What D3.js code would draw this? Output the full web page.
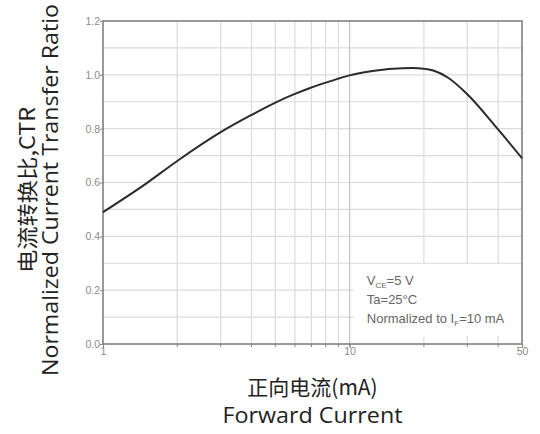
<!DOCTYPE html>
<html>
<head>
<meta charset="utf-8">
<script src="https://cdn.jsdelivr.net/npm/d3@7"></script>
<style>
  body { margin: 0; background: #fff; }
  svg { display: block; }
</style>
</head>
<body>
<div id="chart"></div>
<script>
// forward current (mA) vs normalized CTR
const currentMA = [1, 1.5, 2, 3, 4, 5, 6, 7, 8, 9, 10, 12, 15, 18, 20, 22, 25, 30, 40, 50];
const ctr = [0.49, 0.597, 0.68, 0.787, 0.851, 0.897, 0.929, 0.953, 0.971, 0.986, 0.998, 1.012, 1.023, 1.025, 1.023, 1.015, 0.99, 0.928, 0.797, 0.69];

const yTicks = [0, 0.2, 0.4, 0.6, 0.8, 1.0, 1.2];
const yGrid = [0.1, 0.2, 0.3, 0.4, 0.5, 0.6, 0.7, 0.8, 0.9, 1.0, 1.1];
const xTickLabels = [1, 10, 50];
const xGrid = [2, 3, 4, 5, 6, 7, 8, 9, 10, 20, 30, 40];

const notes = ["V|CE|=5 V", "Ta=25°C", "Normalized to I|F|=10 mA"];

const width = 540, height = 434;
const margin = {top: 21, right: 18, bottom: 90, left: 103};

const svg = d3.select("#chart").append("svg")
    .attr("width", width)
    .attr("height", height);

const x = d3.scaleLog()
    .domain([1, 50])
    .range([margin.left, width - margin.right]);

const y = d3.scaleLinear()
    .domain([0, 1.2])
    .range([height - margin.bottom, margin.top]);

// grid
svg.append("g")
    .attr("stroke", "#dcdcdc")
    .attr("stroke-width", 1.2)
  .selectAll("line")
  .data(yGrid)
  .join("line")
    .attr("x1", margin.left)
    .attr("x2", width - margin.right)
    .attr("y1", d => y(d))
    .attr("y2", d => y(d));

svg.append("g")
    .attr("stroke-width", 1.2)
  .selectAll("line")
  .data(xGrid)
  .join("line")
    .attr("stroke", d => d === 10 ? "#c4c4c4" : "#dcdcdc")
    .attr("x1", d => x(d))
    .attr("x2", d => x(d))
    .attr("y1", margin.top)
    .attr("y2", height - margin.bottom);

// small tick marks under the bottom axis
svg.append("g")
    .attr("stroke", "#888")
  .selectAll("line")
  .data(xGrid)
  .join("line")
    .attr("x1", d => x(d))
    .attr("x2", d => x(d))
    .attr("y1", height - margin.bottom)
    .attr("y2", height - margin.bottom + 3);

// axes via d3 (labels only, lines drawn as frame)
const yAxis = svg.append("g")
    .attr("transform", `translate(${margin.left},0)`)
    .call(d3.axisLeft(y).tickValues(yTicks).tickFormat(d3.format(".1f")).tickSize(3));
yAxis.select(".domain").remove();
yAxis.selectAll("line").attr("stroke", "#888");
yAxis.selectAll("text")
    .attr("fill", "#8a8a8a")
    .attr("font-family", "Liberation Sans, Arial, sans-serif")
    .attr("font-size", 10.5)
    .attr("x", -3);

const xAxis = svg.append("g")
    .attr("transform", `translate(0,${height - margin.bottom})`)
    .call(d3.axisBottom(x).tickValues(xTickLabels).tickFormat(d3.format("d")).tickSize(4));
xAxis.select(".domain").remove();
xAxis.selectAll("line").attr("stroke", "#888");
xAxis.selectAll("text")
    .attr("fill", "#8a8a8a")
    .attr("font-family", "Liberation Sans, Arial, sans-serif")
    .attr("font-size", 10.5)
    .attr("y", 4);

// plot frame
svg.append("rect")
    .attr("x", margin.left)
    .attr("y", margin.top)
    .attr("width", width - margin.right - margin.left)
    .attr("height", height - margin.bottom - margin.top)
    .attr("fill", "none")
    .attr("stroke", "#808080")
    .attr("stroke-width", 1.6);

// curve
const line = d3.line()
    .x((d, i) => x(currentMA[i]))
    .y(d => y(d))
    .curve(d3.curveMonotoneX);

svg.append("path")
    .datum(ctr)
    .attr("fill", "none")
    .attr("stroke", "#2b2b2b")
    .attr("stroke-width", 2)
    .attr("d", line);

// conditions box
const boxX = x(10.4), boxY = y(0.3) + 1;
svg.append("rect")
    .attr("x", boxX)
    .attr("y", boxY)
    .attr("width", x(50) - boxX - 1)
    .attr("height", y(0.03) - boxY)
    .attr("fill", "#fff");

const note = svg.append("g")
    .attr("font-family", "Liberation Sans, Arial, sans-serif")
    .attr("font-size", 13)
    .attr("fill", "#666");

notes.forEach((s, i) => {
  const parts = s.split("|");
  const t = note.append("text")
      .attr("x", boxX + 13)
      .attr("y", 285 + i * 19);
  parts.forEach((p, j) => {
    const sp = t.append("tspan").text(p);
    if (j === 1) sp.attr("font-size", 8).attr("dy", 3);
    if (j === 2) sp.attr("dy", -3);
  });
});

// axis titles
const cx = (margin.left + width - margin.right) / 2;
svg.append("text")
    .attr("x", cx)
    .attr("y", 395)
    .attr("text-anchor", "middle")
    .attr("font-family", "Noto Sans CJK SC, sans-serif")
    .attr("font-size", 21)
    .attr("fill", "#222")
    .text("正向电流(mA)");

svg.append("text")
    .attr("x", cx)
    .attr("y", 423)
    .attr("text-anchor", "middle")
    .attr("font-family", "Open Sans, sans-serif")
    .attr("font-size", 21.5)
    .attr("textLength", 180)
    .attr("lengthAdjust", "spacingAndGlyphs")
    .attr("fill", "#222")
    .text("Forward Current");

const cy = 190;
svg.append("text")
    .attr("transform", `translate(35,${cy}) rotate(-90)`)
    .attr("text-anchor", "middle")
    .attr("font-family", "Noto Sans CJK SC, sans-serif")
    .attr("font-size", 21)
    .attr("textLength", 166)
    .attr("lengthAdjust", "spacingAndGlyphs")
    .attr("fill", "#222")
    .text("电流转换比,CTR");

svg.append("text")
    .attr("transform", `translate(58,${cy}) rotate(-90)`)
    .attr("text-anchor", "middle")
    .attr("font-family", "Open Sans, sans-serif")
    .attr("font-size", 21)
    .attr("textLength", 372)
    .attr("lengthAdjust", "spacingAndGlyphs")
    .attr("fill", "#222")
    .text("Normalized Current Transfer Ratio");
</script>
</body>
</html>
